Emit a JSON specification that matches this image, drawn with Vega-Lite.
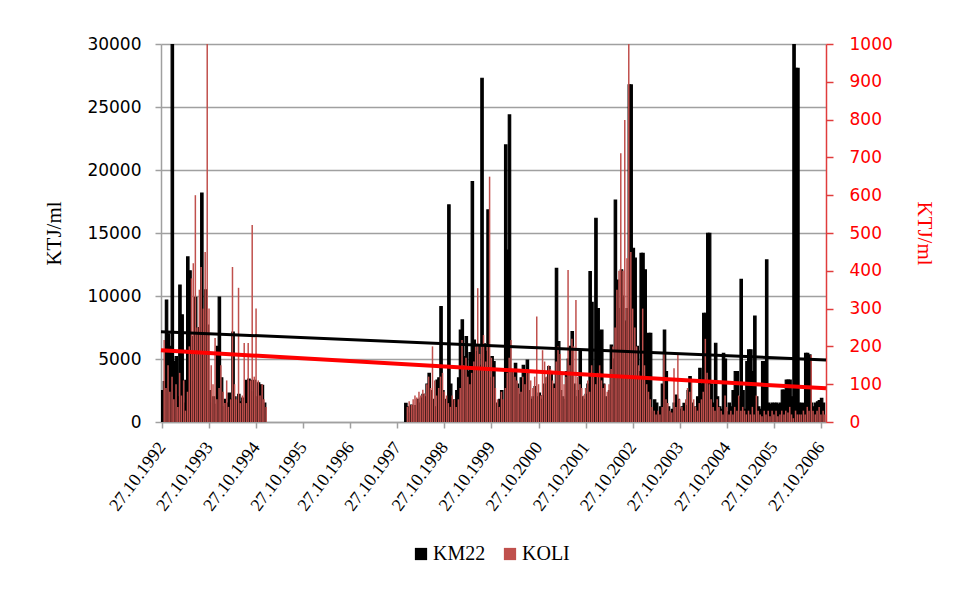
{
  "$schema": "https://vega.github.io/schema/vega-lite/v6.json",
  "width": 665,
  "height": 378,
  "autosize": {"type": "none"},
  "padding": {"left": 161, "top": 44, "right": 130, "bottom": 170},
  "background": "white",
  "config": {"view": {"stroke": null}, "font": "Liberation Serif"},
  "datasets": {
    "m": [
      {"d":"1992-11-01","KM22":2500,"KOLI":217},{"d":"1992-11-15","KM22":3200,"KOLI":90},
      {"d":"1992-12-01","KM22":9680,"KOLI":150},{"d":"1992-12-15","KM22":7000,"KOLI":80},
      {"d":"1993-01-01","KM22":6000,"KOLI":120},{"d":"1993-01-15","KM22":30000,"KOLI":60},
      {"d":"1993-02-01","KM22":4800,"KOLI":100},{"d":"1993-02-15","KM22":5200,"KOLI":40},
      {"d":"1993-03-01","KM22":2000,"KOLI":130},{"d":"1993-03-15","KM22":10870,"KOLI":70},
      {"d":"1993-04-01","KM22":8500,"KOLI":110},{"d":"1993-04-15","KM22":1500,"KOLI":30},
      {"d":"1993-05-01","KM22":3300,"KOLI":80},{"d":"1993-05-15","KM22":13100,"KOLI":200},
      {"d":"1993-06-01","KM22":12000,"KOLI":380},{"d":"1993-06-15","KM22":3200,"KOLI":420},
      {"d":"1993-07-01","KM22":6800,"KOLI":600},{"d":"1993-07-15","KM22":9900,"KOLI":250},
      {"d":"1993-08-01","KM22":7000,"KOLI":350},{"d":"1993-08-15","KM22":7500,"KOLI":410},
      {"d":"1993-09-01","KM22":18170,"KOLI":300},{"d":"1993-09-15","KM22":8000,"KOLI":450},
      {"d":"1993-10-01","KM22":10480,"KOLI":1000},{"d":"1993-10-15","KM22":7700,"KOLI":300},
      {"d":"1993-11-01","KM22":2500,"KOLI":150},{"d":"1993-11-15","KM22":1500,"KOLI":100},
      {"d":"1993-12-01","KM22":2000,"KOLI":222},{"d":"1993-12-15","KM22":1400,"KOLI":60},
      {"d":"1994-01-01","KM22":6000,"KOLI":90},{"d":"1994-01-15","KM22":9920,"KOLI":150},
      {"d":"1994-02-01","KM22":3500,"KOLI":80},{"d":"1994-02-15","KM22":1200,"KOLI":50},
      {"d":"1994-03-01","KM22":1800,"KOLI":110},{"d":"1994-03-15","KM22":1500,"KOLI":40},
      {"d":"1994-04-01","KM22":2300,"KOLI":60},{"d":"1994-04-15","KM22":1800,"KOLI":410},
      {"d":"1994-05-01","KM22":7140,"KOLI":100},{"d":"1994-05-15","KM22":2000,"KOLI":60},
      {"d":"1994-06-01","KM22":1400,"KOLI":355},{"d":"1994-06-15","KM22":2200,"KOLI":50},
      {"d":"1994-07-01","KM22":1600,"KOLI":70},{"d":"1994-07-15","KM22":1900,"KOLI":209},
      {"d":"1994-08-01","KM22":1300,"KOLI":50},{"d":"1994-08-15","KM22":3300,"KOLI":209},
      {"d":"1994-09-01","KM22":3400,"KOLI":110},{"d":"1994-09-15","KM22":3300,"KOLI":521},
      {"d":"1994-10-01","KM22":2400,"KOLI":120},{"d":"1994-10-15","KM22":3300,"KOLI":300},
      {"d":"1994-11-01","KM22":2000,"KOLI":110},{"d":"1994-11-15","KM22":3100,"KOLI":70},
      {"d":"1994-12-01","KM22":2940,"KOLI":100},{"d":"1994-12-15","KM22":2900,"KOLI":60},
      {"d":"1995-01-01","KM22":1500,"KOLI":40},
      {"d":"1998-01-01","KM22":1480,"KOLI":40},{"d":"1998-01-15","KM22":1200,"KOLI":55},
      {"d":"1998-02-01","KM22":700,"KOLI":45},{"d":"1998-02-15","KM22":1350,"KOLI":60},
      {"d":"1998-03-01","KM22":1000,"KOLI":70},{"d":"1998-03-15","KM22":1300,"KOLI":65},
      {"d":"1998-04-01","KM22":1800,"KOLI":80},{"d":"1998-04-15","KM22":1500,"KOLI":70},
      {"d":"1998-05-01","KM22":1900,"KOLI":85},{"d":"1998-05-15","KM22":2200,"KOLI":75},
      {"d":"1998-06-01","KM22":2000,"KOLI":100},{"d":"1998-06-15","KM22":3000,"KOLI":120},
      {"d":"1998-07-01","KM22":3860,"KOLI":90},{"d":"1998-07-15","KM22":2500,"KOLI":200},
      {"d":"1998-08-01","KM22":1800,"KOLI":110},{"d":"1998-08-15","KM22":1200,"KOLI":70},
      {"d":"1998-09-01","KM22":3330,"KOLI":90},{"d":"1998-09-15","KM22":3500,"KOLI":120},
      {"d":"1998-10-01","KM22":9150,"KOLI":130},{"d":"1998-10-15","KM22":2500,"KOLI":80},
      {"d":"1998-11-01","KM22":1800,"KOLI":70},{"d":"1998-11-15","KM22":1500,"KOLI":50},
      {"d":"1998-12-01","KM22":17230,"KOLI":40},{"d":"1998-12-15","KM22":3000,"KOLI":70},
      {"d":"1999-01-01","KM22":1600,"KOLI":60},{"d":"1999-01-15","KM22":1750,"KOLI":40},
      {"d":"1999-02-01","KM22":2500,"KOLI":60},{"d":"1999-02-15","KM22":3500,"KOLI":90},
      {"d":"1999-03-01","KM22":7300,"KOLI":217},{"d":"1999-03-15","KM22":8100,"KOLI":150},
      {"d":"1999-04-01","KM22":5200,"KOLI":170},{"d":"1999-04-15","KM22":6770,"KOLI":120},
      {"d":"1999-05-01","KM22":4000,"KOLI":100},{"d":"1999-05-15","KM22":5500,"KOLI":130},
      {"d":"1999-06-01","KM22":19080,"KOLI":160},{"d":"1999-06-15","KM22":6500,"KOLI":200},
      {"d":"1999-07-01","KM22":5580,"KOLI":354},{"d":"1999-07-15","KM22":6000,"KOLI":180},
      {"d":"1999-08-01","KM22":4500,"KOLI":200},{"d":"1999-08-15","KM22":27280,"KOLI":230},
      {"d":"1999-09-01","KM22":6200,"KOLI":160},{"d":"1999-09-15","KM22":5600,"KOLI":200},
      {"d":"1999-10-01","KM22":16830,"KOLI":649},{"d":"1999-10-15","KM22":3500,"KOLI":170},
      {"d":"1999-11-01","KM22":5190,"KOLI":120},{"d":"1999-11-15","KM22":4800,"KOLI":90},
      {"d":"1999-12-01","KM22":1500,"KOLI":60},{"d":"1999-12-15","KM22":1200,"KOLI":40},
      {"d":"2000-01-01","KM22":1800,"KOLI":80},{"d":"2000-01-15","KM22":2500,"KOLI":60},
      {"d":"2000-02-01","KM22":1500,"KOLI":90},{"d":"2000-02-15","KM22":21990,"KOLI":130},
      {"d":"2000-03-01","KM22":13650,"KOLI":170},{"d":"2000-03-15","KM22":24370,"KOLI":217},
      {"d":"2000-04-01","KM22":4000,"KOLI":140},{"d":"2000-04-15","KM22":3600,"KOLI":120},
      {"d":"2000-05-01","KM22":4660,"KOLI":110},{"d":"2000-05-15","KM22":3000,"KOLI":90},
      {"d":"2000-06-01","KM22":2200,"KOLI":80},{"d":"2000-06-15","KM22":3500,"KOLI":120},
      {"d":"2000-07-01","KM22":4500,"KOLI":100},{"d":"2000-07-15","KM22":4000,"KOLI":140},
      {"d":"2000-08-01","KM22":4920,"KOLI":130},{"d":"2000-08-15","KM22":2500,"KOLI":110},
      {"d":"2000-09-01","KM22":1800,"KOLI":90},{"d":"2000-09-15","KM22":2000,"KOLI":120},
      {"d":"2000-10-01","KM22":2800,"KOLI":279},{"d":"2000-10-15","KM22":2000,"KOLI":100},
      {"d":"2000-11-01","KM22":2300,"KOLI":70},{"d":"2000-11-15","KM22":1800,"KOLI":190},
      {"d":"2000-12-01","KM22":2100,"KOLI":160},{"d":"2000-12-15","KM22":3000,"KOLI":120},
      {"d":"2001-01-01","KM22":3500,"KOLI":150},{"d":"2001-01-15","KM22":4390,"KOLI":140},
      {"d":"2001-02-01","KM22":4000,"KOLI":110},{"d":"2001-02-15","KM22":2500,"KOLI":90},
      {"d":"2001-03-01","KM22":3000,"KOLI":160},{"d":"2001-03-15","KM22":12200,"KOLI":200},
      {"d":"2001-04-01","KM22":6380,"KOLI":180},{"d":"2001-04-15","KM22":2500,"KOLI":130},
      {"d":"2001-05-01","KM22":2000,"KOLI":100},{"d":"2001-05-15","KM22":1800,"KOLI":120},
      {"d":"2001-06-01","KM22":4000,"KOLI":402},{"d":"2001-06-15","KM22":5000,"KOLI":150},
      {"d":"2001-07-01","KM22":6000,"KOLI":220},{"d":"2001-07-15","KM22":7170,"KOLI":200},
      {"d":"2001-08-01","KM22":3000,"KOLI":323},{"d":"2001-08-15","KM22":2000,"KOLI":120},
      {"d":"2001-09-01","KM22":2500,"KOLI":100},{"d":"2001-09-15","KM22":5720,"KOLI":90},
      {"d":"2001-10-01","KM22":2000,"KOLI":70},{"d":"2001-10-15","KM22":1800,"KOLI":90},
      {"d":"2001-11-01","KM22":2200,"KOLI":110},{"d":"2001-11-15","KM22":3000,"KOLI":80},
      {"d":"2001-12-01","KM22":11930,"KOLI":150},{"d":"2001-12-15","KM22":9500,"KOLI":120},
      {"d":"2002-01-01","KM22":3500,"KOLI":100},{"d":"2002-01-15","KM22":16170,"KOLI":130},
      {"d":"2002-02-01","KM22":9000,"KOLI":150},{"d":"2002-02-15","KM22":7170,"KOLI":110},
      {"d":"2002-03-01","KM22":7300,"KOLI":90},{"d":"2002-03-15","KM22":3000,"KOLI":100},
      {"d":"2002-04-01","KM22":2000,"KOLI":80},{"d":"2002-04-15","KM22":1800,"KOLI":100},
      {"d":"2002-05-01","KM22":2500,"KOLI":140},{"d":"2002-05-15","KM22":6110,"KOLI":200},
      {"d":"2002-06-01","KM22":5000,"KOLI":250},{"d":"2002-06-15","KM22":17620,"KOLI":350},
      {"d":"2002-07-01","KM22":11270,"KOLI":400},{"d":"2002-07-15","KM22":9000,"KOLI":711},
      {"d":"2002-08-01","KM22":12070,"KOLI":400},{"d":"2002-08-15","KM22":10000,"KOLI":799},
      {"d":"2002-09-01","KM22":8000,"KOLI":433},{"d":"2002-09-15","KM22":9000,"KOLI":1000},
      {"d":"2002-10-01","KM22":26750,"KOLI":450},{"d":"2002-10-15","KM22":26750,"KOLI":300},
      {"d":"2002-11-01","KM22":13790,"KOLI":250},{"d":"2002-11-15","KM22":13000,"KOLI":200},
      {"d":"2002-12-01","KM22":6000,"KOLI":150},{"d":"2002-12-15","KM22":4000,"KOLI":120},
      {"d":"2003-01-01","KM22":13390,"KOLI":300},{"d":"2003-01-15","KM22":13390,"KOLI":150},
      {"d":"2003-02-01","KM22":12070,"KOLI":100},{"d":"2003-02-15","KM22":3000,"KOLI":80},
      {"d":"2003-03-01","KM22":7040,"KOLI":60},{"d":"2003-03-15","KM22":7040,"KOLI":40},
      {"d":"2003-04-01","KM22":800,"KOLI":30},{"d":"2003-04-15","KM22":1750,"KOLI":20},
      {"d":"2003-05-01","KM22":1500,"KOLI":30},{"d":"2003-05-15","KM22":600,"KOLI":20},
      {"d":"2003-06-01","KM22":1200,"KOLI":40},{"d":"2003-06-15","KM22":3000,"KOLI":182},
      {"d":"2003-07-01","KM22":7300,"KOLI":60},{"d":"2003-07-15","KM22":4000,"KOLI":50},
      {"d":"2003-08-01","KM22":1200,"KOLI":30},{"d":"2003-08-15","KM22":800,"KOLI":25},
      {"d":"2003-09-01","KM22":1000,"KOLI":142},{"d":"2003-09-15","KM22":1500,"KOLI":40},
      {"d":"2003-10-01","KM22":2140,"KOLI":182},{"d":"2003-10-15","KM22":1800,"KOLI":60},
      {"d":"2003-11-01","KM22":1000,"KOLI":40},{"d":"2003-11-15","KM22":1200,"KOLI":30},
      {"d":"2003-12-01","KM22":1480,"KOLI":60},{"d":"2003-12-15","KM22":1300,"KOLI":90},
      {"d":"2004-01-01","KM22":2500,"KOLI":80},{"d":"2004-01-15","KM22":3600,"KOLI":110},
      {"d":"2004-02-01","KM22":1500,"KOLI":60},{"d":"2004-02-15","KM22":1200,"KOLI":40},
      {"d":"2004-03-01","KM22":900,"KOLI":30},{"d":"2004-03-15","KM22":2000,"KOLI":50},
      {"d":"2004-04-01","KM22":4260,"KOLI":60},{"d":"2004-04-15","KM22":3000,"KOLI":80},
      {"d":"2004-05-01","KM22":8630,"KOLI":220},{"d":"2004-05-15","KM22":8630,"KOLI":130},
      {"d":"2004-06-01","KM22":14980,"KOLI":100},{"d":"2004-06-15","KM22":14980,"KOLI":60},
      {"d":"2004-07-01","KM22":3000,"KOLI":40},{"d":"2004-07-15","KM22":1500,"KOLI":30},
      {"d":"2004-08-01","KM22":6250,"KOLI":60},{"d":"2004-08-15","KM22":2000,"KOLI":40},
      {"d":"2004-09-01","KM22":1200,"KOLI":30},{"d":"2004-09-15","KM22":1000,"KOLI":20},
      {"d":"2004-10-01","KM22":5450,"KOLI":70},{"d":"2004-10-15","KM22":5000,"KOLI":40},
      {"d":"2004-11-01","KM22":800,"KOLI":20},{"d":"2004-11-15","KM22":1500,"KOLI":30},
      {"d":"2004-12-01","KM22":1200,"KOLI":20},{"d":"2004-12-15","KM22":2500,"KOLI":40},
      {"d":"2005-01-01","KM22":4000,"KOLI":30},{"d":"2005-01-15","KM22":4000,"KOLI":70},
      {"d":"2005-02-01","KM22":2000,"KOLI":30},{"d":"2005-02-15","KM22":11320,"KOLI":40},
      {"d":"2005-03-01","KM22":2500,"KOLI":30},{"d":"2005-03-15","KM22":1000,"KOLI":20},
      {"d":"2005-04-01","KM22":4790,"KOLI":30},{"d":"2005-04-15","KM22":5720,"KOLI":20},
      {"d":"2005-05-01","KM22":5720,"KOLI":40},{"d":"2005-05-15","KM22":4000,"KOLI":20},
      {"d":"2005-06-01","KM22":8410,"KOLI":70},{"d":"2005-06-15","KM22":2000,"KOLI":30},
      {"d":"2005-07-01","KM22":1200,"KOLI":20},{"d":"2005-07-15","KM22":1000,"KOLI":15},
      {"d":"2005-08-01","KM22":4790,"KOLI":30},{"d":"2005-08-15","KM22":4790,"KOLI":20},
      {"d":"2005-09-01","KM22":12860,"KOLI":30},{"d":"2005-09-15","KM22":1500,"KOLI":15},
      {"d":"2005-10-01","KM22":1400,"KOLI":30},{"d":"2005-10-15","KM22":1500,"KOLI":20},
      {"d":"2005-11-01","KM22":1480,"KOLI":30},{"d":"2005-11-15","KM22":1500,"KOLI":15},
      {"d":"2005-12-01","KM22":1400,"KOLI":20},{"d":"2005-12-15","KM22":1500,"KOLI":30},
      {"d":"2006-01-01","KM22":2540,"KOLI":20},{"d":"2006-01-15","KM22":2540,"KOLI":30},
      {"d":"2006-02-01","KM22":3330,"KOLI":25},{"d":"2006-02-15","KM22":3330,"KOLI":40},
      {"d":"2006-03-01","KM22":3330,"KOLI":20},{"d":"2006-03-15","KM22":2000,"KOLI":10},
      {"d":"2006-04-01","KM22":30000,"KOLI":30},{"d":"2006-04-15","KM22":28070,"KOLI":20},
      {"d":"2006-05-01","KM22":28070,"KOLI":20},{"d":"2006-05-15","KM22":1500,"KOLI":20},
      {"d":"2006-06-01","KM22":1480,"KOLI":30},{"d":"2006-06-15","KM22":1480,"KOLI":20},
      {"d":"2006-07-01","KM22":5450,"KOLI":40},{"d":"2006-07-15","KM22":5450,"KOLI":30},
      {"d":"2006-08-01","KM22":5320,"KOLI":177},{"d":"2006-08-15","KM22":1500,"KOLI":30},
      {"d":"2006-09-01","KM22":1200,"KOLI":20},{"d":"2006-09-15","KM22":1500,"KOLI":30},
      {"d":"2006-10-01","KM22":1600,"KOLI":40},{"d":"2006-10-15","KM22":1700,"KOLI":20},
      {"d":"2006-11-01","KM22":1880,"KOLI":30},{"d":"2006-11-15","KM22":1500,"KOLI":20}
    ],
    "t": [
      {"d":"1992-10-19","k":7170,"c":190},
      {"d":"2006-12-05","k":4920,"c":89}
    ]
  },
  "encoding": {
    "x": {
      "field": "d",
      "type": "temporal",
      "scale": {"type": "utc", "padding": 0, "domain": [{"year":1992,"month":10,"date":19,"utc":true},{"year":2006,"month":12,"date":5,"utc":true}]},
      "axis": {
        "title": null,
        "values": [
          {"year":1992,"month":10,"date":27,"utc":true},{"year":1993,"month":10,"date":27,"utc":true},
          {"year":1994,"month":10,"date":27,"utc":true},{"year":1995,"month":10,"date":27,"utc":true},
          {"year":1996,"month":10,"date":27,"utc":true},{"year":1997,"month":10,"date":27,"utc":true},
          {"year":1998,"month":10,"date":27,"utc":true},{"year":1999,"month":10,"date":27,"utc":true},
          {"year":2000,"month":10,"date":27,"utc":true},{"year":2001,"month":10,"date":27,"utc":true},
          {"year":2002,"month":10,"date":27,"utc":true},{"year":2003,"month":10,"date":27,"utc":true},
          {"year":2004,"month":10,"date":27,"utc":true},{"year":2005,"month":10,"date":27,"utc":true},
          {"year":2006,"month":10,"date":27,"utc":true}
        ],
        "format": "%d.%m.%Y",
        "labelAngle": -53,
        "labelAlign": "right",
        "labelBaseline": "middle",
        "labelFont": "Liberation Serif",
        "labelFontSize": 18,
        "labelColor": "#000000",
        "labelPadding": 16,
        "labelOverlap": false,
        "labelFlush": false,
        "grid": false,
        "domainColor": "#A0A0A0",
        "domainWidth": 1.5,
        "tickColor": "#A0A0A0",
        "tickWidth": 1.5,
        "tickSize": 6
      }
    }
  },
  "layer": [
    {
      "data": {"name": "m"},
      "mark": {"type": "bar", "size": 2.4, "stroke": "#000000", "strokeWidth": 1.2, "clip": true},
      "encoding": {
        "y": {
          "field": "KM22", "type": "quantitative",
          "scale": {"domain": [0, 30000], "nice": false},
          "axis": {
            "orient": "left",
            "values": [0,5000,10000,15000,20000,25000,30000],
            "format": "d",
            "grid": true, "gridColor": "#A0A0A0", "gridWidth": 1.5,
            "domainColor": "#A0A0A0", "domainWidth": 1.5,
            "tickColor": "#A0A0A0", "tickWidth": 1.5, "tickSize": 6,
            "labelFont": "DejaVu Sans", "labelFontSize": 17, "labelColor": "#000000", "labelPadding": 14,
            "title": "KTJ/ml", "titleFont": "Liberation Serif", "titleFontSize": 21, "titleFontWeight": "normal",
            "titleColor": "#000000", "titlePadding": 22
          }
        },
        "color": {
          "datum": "KM22",
          "scale": {"domain": ["KM22", "KOLI"], "range": ["#000000", "#C0504D"]},
          "legend": {
            "orient": "none", "legendX": 250, "legendY": 500, "direction": "horizontal", "title": null,
            "labelFont": "Liberation Serif", "labelFontSize": 20, "labelColor": "#000000",
            "symbolType": "square", "symbolSize": 150, "symbolStrokeWidth": 0, "labelOffset": 2, "columnPadding": 14
          }
        }
      }
    },
    {
      "data": {"name": "m"},
      "mark": {"type": "bar", "size": 1.5, "xOffset": 1.5, "clip": true},
      "encoding": {
        "y": {
          "field": "KOLI", "type": "quantitative",
          "scale": {"domain": [0, 1000], "nice": false},
          "axis": {
            "orient": "right",
            "values": [0,100,200,300,400,500,600,700,800,900,1000],
            "format": "d",
            "grid": false,
            "domainColor": "#E03C3C", "domainWidth": 1.5,
            "tickColor": "#E03C3C", "tickWidth": 1.5, "tickSize": 7,
            "labelFont": "DejaVu Sans", "labelFontSize": 17, "labelColor": "#FF0000", "labelPadding": 16,
            "title": "KTJ/ml", "titleFont": "Liberation Serif", "titleFontSize": 21, "titleFontWeight": "normal",
            "titleColor": "#FF0000", "titlePadding": 21
          }
        },
        "color": {"datum": "KOLI"}
      }
    },
    {
      "data": {"name": "t"},
      "mark": {"type": "line", "color": "#000000", "strokeWidth": 3},
      "encoding": {
        "y": {"field": "k", "type": "quantitative", "scale": {"domain": [0, 30000], "nice": false}, "axis": null}
      }
    },
    {
      "data": {"name": "t"},
      "mark": {"type": "line", "color": "#FF0000", "strokeWidth": 4},
      "encoding": {
        "y": {"field": "c", "type": "quantitative", "scale": {"domain": [0, 1000], "nice": false}, "axis": null}
      }
    }
  ],
  "resolve": {"scale": {"y": "independent"}}
}
